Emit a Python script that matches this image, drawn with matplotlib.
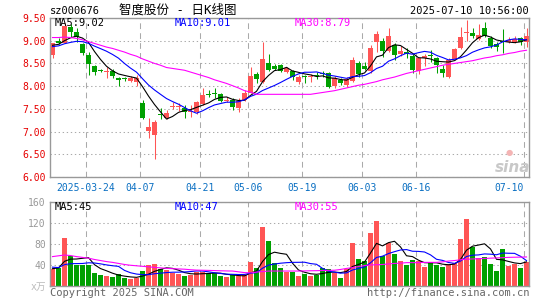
import matplotlib
matplotlib.use("Agg")
import matplotlib.pyplot as plt
import pandas as pd

plt.rcParams["font.family"] = ["DejaVu Sans Mono", "Noto Sans CJK SC"]

# daily bars 2025-03-14 .. 2025-07-10 (index 0..79)
opens = [8.69, 9.00, 8.96, 9.31, 9.19, 8.93, 8.69, 8.45, 8.34, 8.32,
         8.34, 8.19, 8.16, 8.12, 8.10, 7.62, 7.02, 6.92, 7.38, 7.30,
         7.55, 7.54, 7.51, 7.42, 7.43, 7.61, 7.81, 7.83, 7.82, 7.68,
         7.69, 7.52, 7.69, 7.86, 8.26, 8.10, 8.50, 8.45, 8.46, 8.31,
         8.33, 8.10, 8.22, 8.20, 8.23, 8.29, 8.29, 8.01, 8.14, 8.03,
         8.12, 8.51, 8.45, 8.33, 8.98, 8.99, 8.78, 8.90, 8.71, 8.76,
         8.67, 8.33, 8.62, 8.67, 8.63, 8.38, 8.21, 8.60, 8.83, 9.18,
         9.18, 9.04, 9.28, 9.07, 8.92, 8.99, 8.98, 8.98, 9.05, 8.98]
highs = [8.96, 9.05, 9.38, 9.36, 9.28, 8.95, 8.76, 8.47, 8.37, 8.43,
         8.38, 8.20, 8.20, 8.22, 8.25, 7.70, 7.30, 7.25, 7.52, 7.48,
         7.66, 7.63, 7.59, 7.58, 7.68, 7.96, 7.91, 7.95, 7.86, 7.76,
         7.73, 7.73, 7.91, 8.43, 8.32, 8.98, 8.70, 8.48, 8.48, 8.42,
         8.36, 8.25, 8.25, 8.26, 8.31, 8.33, 8.31, 8.22, 8.17, 8.20,
         8.65, 8.55, 8.53, 8.90, 9.21, 9.05, 9.28, 8.95, 8.88, 8.85,
         8.70, 8.63, 8.70, 8.79, 8.65, 8.46, 8.62, 8.83, 9.31, 9.46,
         9.28, 9.36, 9.42, 9.11, 8.98, 9.26, 9.09, 9.11, 9.09, 9.29]
lows = [8.63, 8.93, 8.95, 9.09, 8.98, 8.68, 8.25, 8.25, 8.31, 8.18,
        8.19, 8.00, 8.12, 8.09, 8.00, 7.27, 6.86, 6.40, 7.27, 7.27,
        7.49, 7.45, 7.29, 7.33, 7.38, 7.59, 7.77, 7.74, 7.65, 7.64,
        7.47, 7.43, 7.67, 7.84, 8.06, 8.06, 8.34, 8.35, 8.31, 8.28,
        8.14, 8.04, 8.08, 8.10, 8.15, 8.21, 7.95, 7.96, 8.02, 7.99,
        8.10, 8.21, 8.35, 8.30, 8.76, 8.65, 8.76, 8.58, 8.66, 8.62,
        8.30, 8.26, 8.45, 8.54, 8.30, 8.21, 8.18, 8.57, 8.82, 9.00,
        9.05, 9.02, 9.08, 8.83, 8.77, 8.72, 8.94, 8.96, 8.90, 8.87]
closes = [8.94, 8.96, 9.32, 9.20, 9.08, 8.73, 8.49, 8.31, 8.33, 8.33,
          8.23, 8.14, 8.15, 8.18, 8.19, 7.29, 7.10, 7.22, 7.37, 7.40,
          7.57, 7.55, 7.43, 7.46, 7.65, 7.81, 7.80, 7.82, 7.68, 7.70,
          7.55, 7.67, 7.84, 8.22, 8.15, 8.60, 8.36, 8.38, 8.33, 8.40,
          8.20, 8.21, 8.21, 8.22, 8.22, 8.27, 7.99, 8.18, 8.07, 8.15,
          8.58, 8.27, 8.38, 8.85, 9.14, 8.77, 9.10, 8.69, 8.77, 8.71,
          8.35, 8.61, 8.66, 8.66, 8.46, 8.30, 8.57, 8.82, 9.09, 9.20,
          9.10, 9.12, 9.10, 8.89, 8.87, 8.97, 9.02, 9.04, 8.98, 9.10]
volumes = [33, 34, 92, 58, 40, 40, 40, 25, 21, 19,
           17, 22, 15, 13.5, 15, 29, 40, 42, 32, 30,
           24, 23, 19, 21, 27, 27, 25, 24, 19, 16.5,
           21, 19, 21, 46, 35, 112, 85, 44, 34.5, 26.7,
           27, 20, 23, 20, 21.6, 34, 32, 25, 15, 32,
           82, 51, 48, 101, 124, 58, 82, 61, 47, 40,
           50, 48, 37, 46, 40, 37, 42, 44, 90, 128,
           75, 53, 56, 41, 29, 70, 38, 42, 34, 46]

# sessions before the window, only needed to seed the moving averages
prior_closes = [8.80, 8.85, 8.90, 8.84, 8.81, 8.86, 8.92, 8.88, 8.90]
prior_volumes = [42, 36, 40, 38, 38, 27, 29, 37, 39]

price_ma30 = [9.07, 9.07, 9.08, 9.07, 9.05, 9.02, 8.98, 8.94, 8.90, 8.86,
              8.83, 8.79, 8.75, 8.70, 8.66, 8.60, 8.55, 8.50, 8.46, 8.41,
              8.39, 8.37, 8.35, 8.31, 8.27, 8.23, 8.19, 8.14, 8.10, 8.06,
              8.01, 7.96, 7.90, 7.87, 7.82, 7.82, 7.82, 7.82, 7.82, 7.82,
              7.82, 7.82, 7.82, 7.82, 7.84, 7.86, 7.88, 7.90, 7.93, 7.96,
              7.99, 8.02, 8.04, 8.07, 8.10, 8.14, 8.17, 8.20, 8.24, 8.28,
              8.31, 8.34, 8.37, 8.40, 8.43, 8.46, 8.48, 8.50, 8.52, 8.54,
              8.56, 8.59, 8.62, 8.64, 8.67, 8.69, 8.72, 8.74, 8.77, 8.79]
volume_ma30 = [56, 57.5, 59, 58, 56, 54.5, 53, 50.5, 48.5, 46.5,
               45, 43, 41, 39.5, 38.5, 37.5, 36.5, 35.5, 34.5, 33.6,
               33, 32.5, 32, 31, 30.3, 30, 29.7, 29.4, 29, 28.7,
               28.5, 27, 25.5, 25, 26.5, 27.5, 28.5, 28.5, 28.5, 28.5,
               28.5, 28.5, 28.7, 29, 29.2, 29.5, 29.8, 30, 31.5, 33.5,
               35, 37, 39, 40, 40.5, 41, 42, 43, 43.5, 44.5,
               44.5, 44.5, 45, 45, 45, 46, 47.5, 48.5, 50, 51,
               51.5, 52, 52.5, 53, 53.5, 54, 54.5, 54.8, 55, 55.3]

date_index = [6, 15, 25, 33, 42, 52, 61, 79]
date_labels = ["2025-03-24", "04-07", "04-21", "05-06", "05-19", "06-03", "06-16", "07-10"]
price_ticks = [6.0, 6.5, 7.0, 7.5, 8.0, 8.5, 9.0, 9.5]
volume_ticks = [0, 40, 80, 120, 160]
volume_tick_labels = ["x万", "40", "80", "120", "160"]
price_ma_labels = ["MA5:9.02", "MA10:9.01", "MA30:8.79"]
volume_ma_labels = ["MA5:45", "MA10:47", "MA30:55"]

RED, GREEN = "#ff5555", "#00a000"
MA_COLORS = ["#000000", "#0000ff", "#ff00ff"]
W, H = 545, 300


def rolling(prior, values, n):
    s = pd.Series(prior + values).rolling(n, min_periods=1).mean()
    return s.iloc[len(prior):].to_numpy()


n = len(closes)
idx = list(range(n))
colors = [RED if c >= o else GREEN for o, c in zip(opens, closes)]
price_ma = [rolling(prior_closes, closes, 5), rolling(prior_closes, closes, 10), price_ma30]
volume_ma = [rolling(prior_volumes, volumes, 5), rolling(prior_volumes, volumes, 10), volume_ma30]

fig = plt.figure(figsize=(W / 100, H / 100), dpi=100)
ax_p = fig.add_axes([50 / W, 1 - 177 / H, 479 / W, 159 / H])
ax_v = fig.add_axes([50 / W, 1 - 286 / H, 479 / W, 84 / H])

x_lo = -2.5 / 6
x_hi = x_lo + 479 / 6
date_pos = [i + x_lo for i in date_index]

for ax in (ax_p, ax_v):
    ax.set_xlim(x_lo, x_hi)
    for spine in ax.spines.values():
        spine.set_color("#999999")
        spine.set_linewidth(1)
    for x in date_pos:
        ax.axvline(x, color="#aaaaaa", lw=0.75, dashes=(5.5, 4), zorder=0.5)
    ax.yaxis.grid(True, color="#aaaaaa", lw=0.75, dashes=(1.3, 2.6))
    ax.set_axisbelow(True)
    ax.tick_params(length=0)

# candles
bodies = [max(abs(c - o), 0.02) for o, c in zip(opens, closes)]
body_low = [min(o, c) for o, c in zip(opens, closes)]
ax_p.vlines(idx, lows, highs, colors=colors, lw=0.75, zorder=2)
ax_p.bar(idx, bodies, bottom=body_low, width=5 / 6, color=colors, lw=0, zorder=2)
for line, col in zip(price_ma, MA_COLORS):
    ax_p.plot(idx, line, color=col, lw=0.8, zorder=3)

ax_p.set_ylim(price_ticks[0], price_ticks[-1])
ax_p.set_yticks(price_ticks)
ax_p.set_yticklabels([f"{t:.2f}" for t in price_ticks])
ax_p.tick_params(axis="y", labelcolor="#e60000", labelsize=7, pad=3)
ax_p.set_xticks(date_pos)
ax_p.set_xticklabels(date_labels)
ax_p.tick_params(axis="x", labelcolor="#0a6fc2", labelsize=7, pad=4)
ax_p.get_xticklabels()[-1].set_ha("right")

# volume
ax_v.bar(idx, volumes, width=5 / 6, color=colors, lw=0, zorder=2)
for line, col in zip(volume_ma, MA_COLORS):
    ax_v.plot(idx, line, color=col, lw=0.8, zorder=3)
ax_v.set_ylim(volume_ticks[0], volume_ticks[-1])
ax_v.set_yticks(volume_ticks)
ax_v.set_yticklabels(volume_tick_labels)
ax_v.tick_params(axis="y", labelcolor="#999999", labelsize=7, pad=3)
ax_v.get_yticklabels()[0].set_color("#bbbbbb")
ax_v.set_xticks([])


def ftext(x, y, s, **kw):
    fig.text(x / W, 1 - y / H, s, **kw)


ftext(50, 11, "sz000676", ha="left", va="center", fontsize=7.5)
ftext(178, 10.5, "智度股份 - 日K线图", ha="center", va="center", fontsize=9)
ftext(529, 11, "2025-07-10 10:56:00", ha="right", va="center", fontsize=7.5)

for x, label, col in zip([55, 175, 295], price_ma_labels, MA_COLORS):
    ftext(x, 23.5, label, ha="left", va="center", fontsize=7.5, color=col)
for x, label, col in zip([55, 175, 295], volume_ma_labels, MA_COLORS):
    ftext(x, 206.5, label, ha="left", va="center", fontsize=7.5, color=col)

ftext(50, 292.5, "Copyright 2025 SINA.COM", ha="left", va="center", fontsize=7.5, color="#666666")
ftext(529, 292.5, "http://finance.sina.com.cn", ha="right", va="center", fontsize=7.5, color="#666666")

# sina watermark
ftext(513, 167, "sina", ha="center", va="center", fontsize=11, color="#c8c8c8",
      style="italic", weight="bold", family="DejaVu Sans")
ftext(509, 152, "●", ha="center", va="center", fontsize=6, color="#f4b4b4", family="DejaVu Sans")

fig.savefig("out.png", dpi=100)
